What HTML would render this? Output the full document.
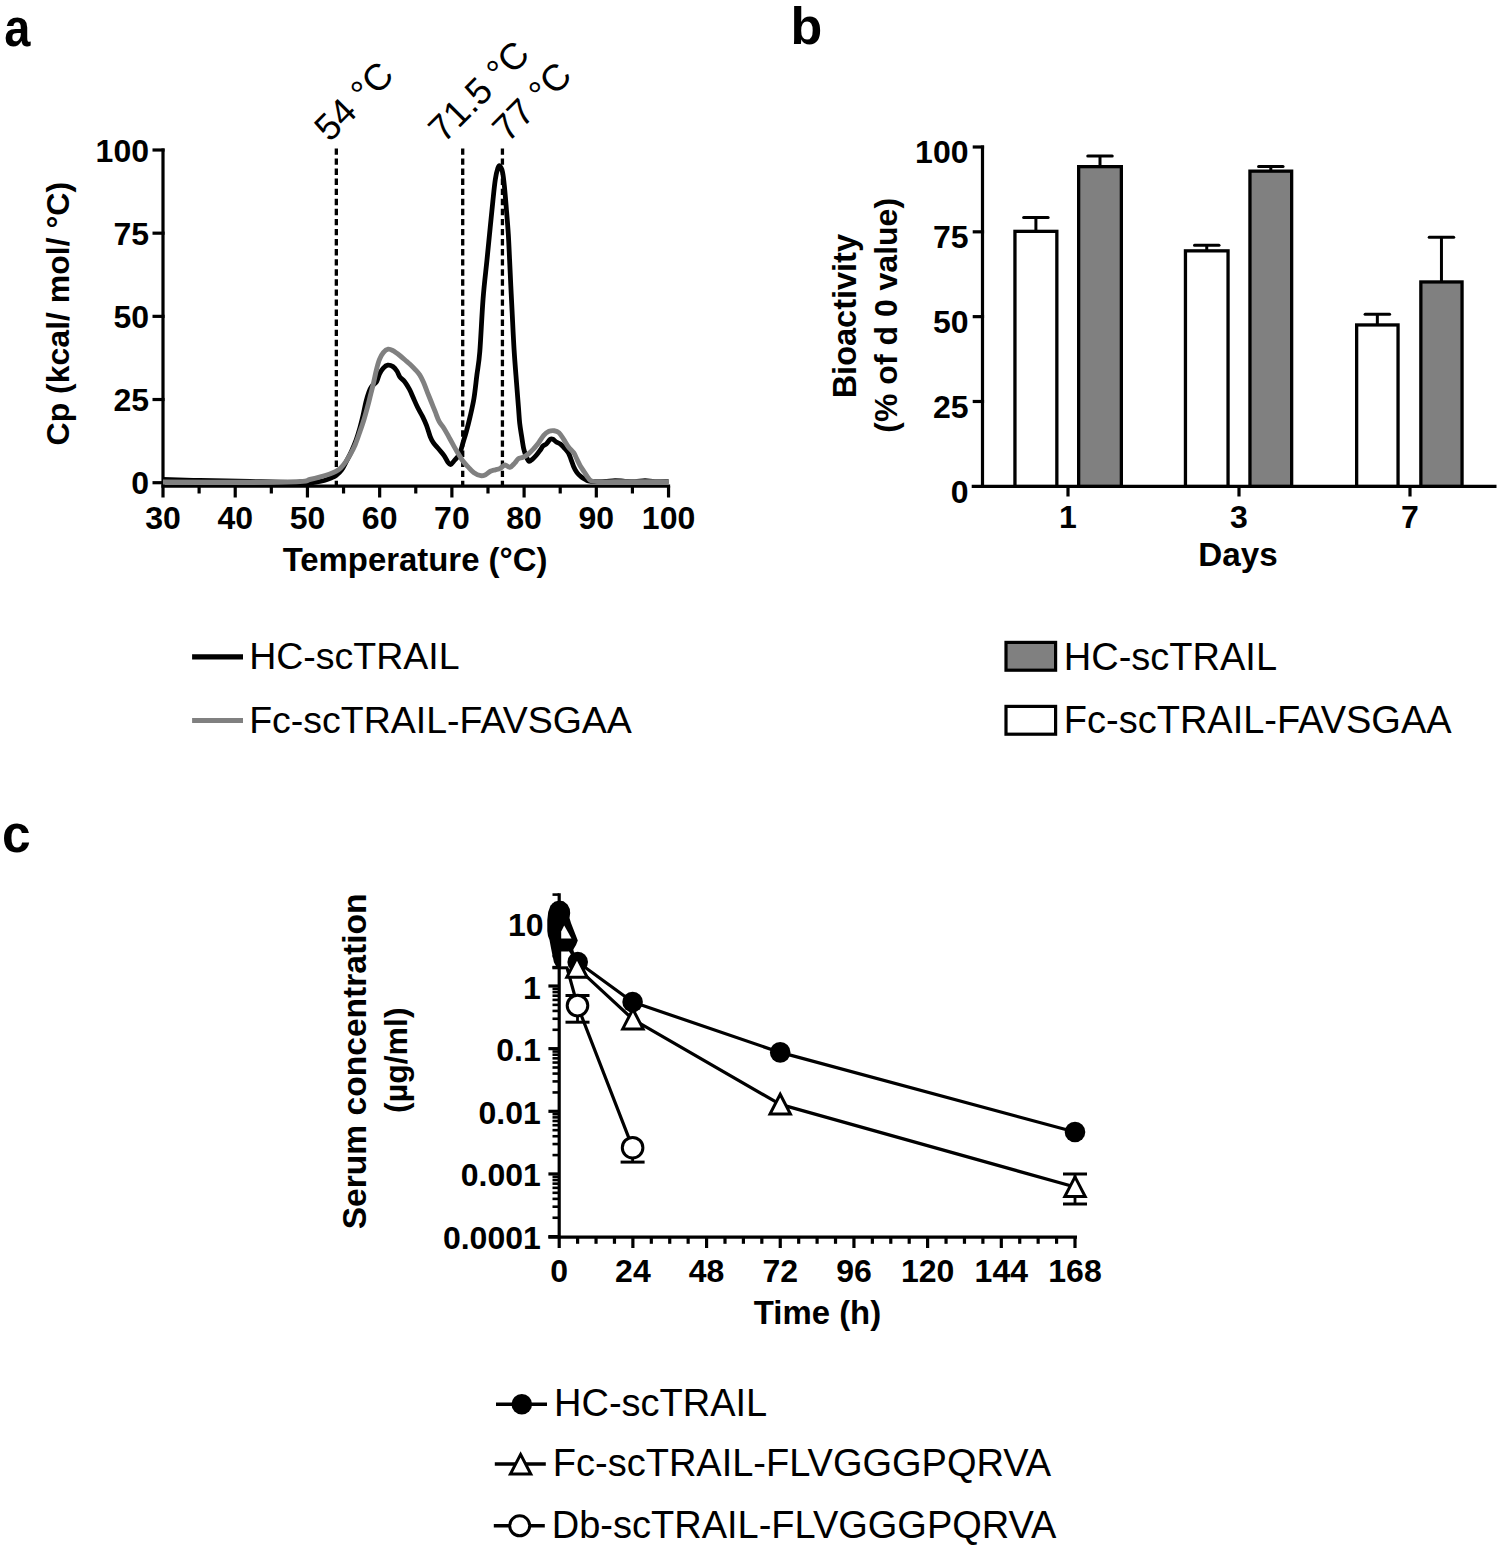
<!DOCTYPE html>
<html><head><meta charset="utf-8"><style>html,body{margin:0;padding:0;background:#fff;}svg{display:block;}</style></head>
<body><svg width="1500" height="1548" viewBox="0 0 1500 1548"><text x="4.00" y="46.00" font-family="Liberation Sans" font-weight="bold" font-size="54" text-anchor="start" transform="matrix(0.87 0 0 1 0.78 0)">a</text>
<text x="790.50" y="43.90" font-family="Liberation Sans" font-weight="bold" font-size="52" text-anchor="start" >b</text>
<text x="2.00" y="852.30" font-family="Liberation Sans" font-weight="bold" font-size="54" text-anchor="start" transform="matrix(0.954 0 0 1 0.18 0)">c</text>
<line x1="163.00" y1="148.50" x2="163.00" y2="486.00" stroke="#000" stroke-width="3.2" />
<line x1="152.50" y1="482.70" x2="164.60" y2="482.70" stroke="#000" stroke-width="3.2" />
<text x="149.00" y="494.20" font-family="Liberation Sans" font-weight="bold" font-size="32" text-anchor="end" >0</text>
<line x1="152.50" y1="399.52" x2="164.60" y2="399.52" stroke="#000" stroke-width="3.2" />
<text x="149.00" y="411.02" font-family="Liberation Sans" font-weight="bold" font-size="32" text-anchor="end" >25</text>
<line x1="152.50" y1="316.35" x2="164.60" y2="316.35" stroke="#000" stroke-width="3.2" />
<text x="149.00" y="327.85" font-family="Liberation Sans" font-weight="bold" font-size="32" text-anchor="end" >50</text>
<line x1="152.50" y1="233.17" x2="164.60" y2="233.17" stroke="#000" stroke-width="3.2" />
<text x="149.00" y="244.67" font-family="Liberation Sans" font-weight="bold" font-size="32" text-anchor="end" >75</text>
<line x1="152.50" y1="150.00" x2="164.60" y2="150.00" stroke="#000" stroke-width="3.2" />
<text x="149.00" y="161.50" font-family="Liberation Sans" font-weight="bold" font-size="32" text-anchor="end" >100</text>
<line x1="161.40" y1="486.20" x2="670.14" y2="486.20" stroke="#000" stroke-width="3.2" />
<line x1="163.00" y1="486.00" x2="163.00" y2="497.50" stroke="#000" stroke-width="3.2" />
<text x="163.00" y="529.00" font-family="Liberation Sans" font-weight="bold" font-size="32" text-anchor="middle" >30</text>
<line x1="235.22" y1="486.00" x2="235.22" y2="497.50" stroke="#000" stroke-width="3.2" />
<text x="235.22" y="529.00" font-family="Liberation Sans" font-weight="bold" font-size="32" text-anchor="middle" >40</text>
<line x1="307.44" y1="486.00" x2="307.44" y2="497.50" stroke="#000" stroke-width="3.2" />
<text x="307.44" y="529.00" font-family="Liberation Sans" font-weight="bold" font-size="32" text-anchor="middle" >50</text>
<line x1="379.66" y1="486.00" x2="379.66" y2="497.50" stroke="#000" stroke-width="3.2" />
<text x="379.66" y="529.00" font-family="Liberation Sans" font-weight="bold" font-size="32" text-anchor="middle" >60</text>
<line x1="451.88" y1="486.00" x2="451.88" y2="497.50" stroke="#000" stroke-width="3.2" />
<text x="451.88" y="529.00" font-family="Liberation Sans" font-weight="bold" font-size="32" text-anchor="middle" >70</text>
<line x1="524.10" y1="486.00" x2="524.10" y2="497.50" stroke="#000" stroke-width="3.2" />
<text x="524.10" y="529.00" font-family="Liberation Sans" font-weight="bold" font-size="32" text-anchor="middle" >80</text>
<line x1="596.32" y1="486.00" x2="596.32" y2="497.50" stroke="#000" stroke-width="3.2" />
<text x="596.32" y="529.00" font-family="Liberation Sans" font-weight="bold" font-size="32" text-anchor="middle" >90</text>
<line x1="668.54" y1="486.00" x2="668.54" y2="497.50" stroke="#000" stroke-width="3.2" />
<text x="668.54" y="529.00" font-family="Liberation Sans" font-weight="bold" font-size="32" text-anchor="middle" >100</text>
<line x1="199.11" y1="486.00" x2="199.11" y2="493.50" stroke="#000" stroke-width="3.2" />
<line x1="271.33" y1="486.00" x2="271.33" y2="493.50" stroke="#000" stroke-width="3.2" />
<line x1="343.55" y1="486.00" x2="343.55" y2="493.50" stroke="#000" stroke-width="3.2" />
<line x1="415.77" y1="486.00" x2="415.77" y2="493.50" stroke="#000" stroke-width="3.2" />
<line x1="487.99" y1="486.00" x2="487.99" y2="493.50" stroke="#000" stroke-width="3.2" />
<line x1="560.21" y1="486.00" x2="560.21" y2="493.50" stroke="#000" stroke-width="3.2" />
<line x1="632.43" y1="486.00" x2="632.43" y2="493.50" stroke="#000" stroke-width="3.2" />
<text x="415.00" y="571.00" font-family="Liberation Sans" font-weight="bold" font-size="32.9" text-anchor="middle" >Temperature (°C)</text>
<text transform="translate(69.3,313.7) rotate(-90)" font-family="Liberation Sans" font-weight="bold" font-size="32" text-anchor="middle">Cp (kcal/ mol/ °C)</text>
<line x1="336.33" y1="148.40" x2="336.33" y2="485.00" stroke="#000" stroke-width="3.3" stroke-dasharray="6.4 3.67"/>
<line x1="462.71" y1="148.40" x2="462.71" y2="485.00" stroke="#000" stroke-width="3.3" stroke-dasharray="6.4 3.67"/>
<line x1="502.43" y1="148.40" x2="502.43" y2="485.00" stroke="#000" stroke-width="3.3" stroke-dasharray="6.4 3.67"/>
<text transform="translate(329.8,142.9) rotate(-45)" font-family="Liberation Sans" font-size="37">54 °C</text>
<text transform="translate(443.8,143.9) rotate(-45)" font-family="Liberation Sans" font-size="37">71.5 °C</text>
<text transform="translate(507.8,143.4) rotate(-45)" font-family="Liberation Sans" font-size="37">77 °C</text>
<path d="M163.00,479.50 C169.17,479.67 185.50,480.17 200.00,480.50 C214.50,480.83 235.00,481.17 250.00,481.50 C265.00,481.83 281.67,482.10 290.00,482.50 C298.33,482.90 295.92,483.92 300.00,483.90 C304.08,483.88 310.47,482.97 314.50,482.40 C318.53,481.83 321.28,481.30 324.20,480.50 C327.12,479.70 330.05,478.40 332.00,477.60 C333.95,476.80 334.28,477.00 335.90,475.70 C337.52,474.40 339.93,472.23 341.70,469.80 C343.47,467.37 344.88,464.17 346.50,461.10 C348.12,458.03 349.78,454.95 351.40,451.40 C353.02,447.85 354.75,443.83 356.20,439.80 C357.65,435.77 358.97,431.23 360.10,427.20 C361.23,423.17 362.03,419.80 363.00,415.60 C363.97,411.40 364.93,405.88 365.90,402.00 C366.87,398.12 367.83,394.88 368.80,392.30 C369.77,389.72 370.40,388.27 371.70,386.50 C373.00,384.73 375.30,383.80 376.60,381.70 C377.90,379.60 378.38,376.17 379.50,373.90 C380.62,371.63 381.93,369.55 383.30,368.10 C384.67,366.65 386.08,365.45 387.70,365.20 C389.32,364.95 391.47,365.63 393.00,366.60 C394.53,367.57 395.77,369.30 396.90,371.00 C398.03,372.70 398.50,375.02 399.80,376.80 C401.10,378.58 403.08,379.60 404.70,381.70 C406.32,383.80 408.05,386.67 409.50,389.40 C410.95,392.13 412.02,395.03 413.40,398.10 C414.78,401.17 416.27,404.72 417.80,407.80 C419.33,410.88 421.15,413.68 422.60,416.60 C424.05,419.52 425.22,421.92 426.50,425.30 C427.78,428.68 429.17,434.00 430.30,436.90 C431.43,439.80 431.83,440.60 433.30,442.70 C434.77,444.80 437.33,447.40 439.10,449.50 C440.87,451.60 442.45,453.20 443.90,455.30 C445.35,457.40 446.67,460.57 447.80,462.10 C448.93,463.63 449.57,464.82 450.70,464.50 C451.83,464.18 453.15,461.90 454.60,460.20 C456.05,458.50 457.95,457.38 459.40,454.30 C460.85,451.22 462.17,445.40 463.30,441.70 C464.43,438.00 465.07,436.28 466.20,432.10 C467.33,427.92 468.80,422.27 470.10,416.60 C471.40,410.93 472.87,405.05 474.00,398.10 C475.13,391.15 475.93,382.65 476.90,374.90 C477.87,367.15 478.77,364.33 479.80,351.60 C480.83,338.87 481.90,313.80 483.10,298.50 C484.30,283.20 485.82,271.63 487.00,259.80 C488.18,247.97 489.23,237.18 490.20,227.50 C491.17,217.82 491.95,209.67 492.80,201.70 C493.65,193.73 494.45,185.30 495.30,179.70 C496.15,174.10 497.13,170.37 497.90,168.10 C498.67,165.83 499.13,165.45 499.90,166.10 C500.67,166.75 501.75,168.65 502.50,172.00 C503.25,175.35 503.77,180.18 504.40,186.20 C505.03,192.22 505.65,200.13 506.30,208.10 C506.95,216.07 507.75,225.38 508.30,234.00 C508.85,242.62 509.18,251.20 509.60,259.80 C510.02,268.40 510.38,277.00 510.80,285.60 C511.22,294.20 511.55,300.67 512.10,311.40 C512.65,322.13 513.35,337.97 514.10,350.00 C514.85,362.03 515.87,373.97 516.60,383.60 C517.33,393.23 517.98,401.18 518.50,407.80 C519.02,414.42 519.17,418.48 519.70,423.30 C520.23,428.12 521.03,432.47 521.70,436.70 C522.37,440.93 522.93,445.37 523.70,448.70 C524.47,452.03 525.42,454.60 526.30,456.70 C527.18,458.80 528.00,460.87 529.00,461.30 C530.00,461.73 531.08,460.30 532.30,459.30 C533.52,458.30 534.97,456.85 536.30,455.30 C537.63,453.75 539.18,451.55 540.30,450.00 C541.42,448.45 542.00,447.00 543.00,446.00 C544.00,445.00 545.08,445.12 546.30,444.00 C547.52,442.88 549.18,440.08 550.30,439.30 C551.42,438.52 552.00,438.85 553.00,439.30 C554.00,439.75 555.08,441.22 556.30,442.00 C557.52,442.78 559.07,443.12 560.30,444.00 C561.53,444.88 562.37,445.85 563.70,447.30 C565.03,448.75 567.08,450.70 568.30,452.70 C569.52,454.70 570.10,456.97 571.00,459.30 C571.90,461.63 572.70,464.47 573.70,466.70 C574.70,468.93 575.78,471.03 577.00,472.70 C578.22,474.37 579.67,475.60 581.00,476.70 C582.33,477.80 583.78,478.58 585.00,479.30 C586.22,480.02 586.63,480.62 588.30,481.00 C589.97,481.38 592.22,481.52 595.00,481.60 C597.78,481.68 601.67,481.67 605.00,481.50 C608.33,481.33 611.67,480.63 615.00,480.60 C618.33,480.57 621.67,481.12 625.00,481.30 C628.33,481.48 631.67,481.80 635.00,481.70 C638.33,481.60 641.67,480.72 645.00,480.70 C648.33,480.68 651.08,481.50 655.00,481.60 C658.92,481.70 666.25,481.35 668.50,481.30" fill="none" stroke="#000" stroke-width="4.8" stroke-linejoin="round" stroke-linecap="butt"/>
<path d="M163.00,482.00 C177.50,482.05 227.17,482.38 250.00,482.30 C272.83,482.22 290.05,481.97 300.00,481.50 C309.95,481.03 306.47,480.23 309.70,479.50 C312.93,478.77 316.17,477.98 319.40,477.10 C322.63,476.22 326.35,475.17 329.10,474.20 C331.85,473.23 333.97,472.35 335.90,471.30 C337.83,470.25 339.10,469.43 340.70,467.90 C342.30,466.37 343.88,464.37 345.50,462.10 C347.12,459.83 348.78,457.20 350.40,454.30 C352.02,451.40 353.58,448.57 355.20,444.70 C356.82,440.83 358.63,435.30 360.10,431.10 C361.57,426.90 362.72,423.70 364.00,419.50 C365.28,415.30 366.68,410.10 367.80,405.90 C368.92,401.70 369.73,398.18 370.70,394.30 C371.67,390.42 372.62,386.80 373.60,382.60 C374.58,378.40 375.62,372.97 376.60,369.10 C377.58,365.23 378.38,362.15 379.50,359.40 C380.62,356.65 381.85,354.30 383.30,352.60 C384.75,350.90 386.58,349.52 388.20,349.20 C389.82,348.88 391.07,349.65 393.00,350.70 C394.93,351.75 397.53,353.73 399.80,355.50 C402.07,357.27 404.90,359.85 406.60,361.30 C408.30,362.75 408.63,362.90 410.00,364.20 C411.37,365.50 413.18,367.32 414.80,369.10 C416.42,370.88 418.23,372.65 419.70,374.90 C421.17,377.15 422.32,379.70 423.60,382.60 C424.88,385.50 426.12,389.07 427.40,392.30 C428.68,395.53 430.00,398.77 431.30,402.00 C432.60,405.23 433.90,408.47 435.20,411.70 C436.50,414.93 437.65,418.65 439.10,421.40 C440.55,424.15 442.28,425.62 443.90,428.20 C445.52,430.78 447.18,434.00 448.80,436.90 C450.42,439.80 452.15,443.02 453.60,445.60 C455.05,448.18 456.05,449.97 457.50,452.40 C458.95,454.83 460.53,457.78 462.30,460.20 C464.07,462.62 466.15,464.80 468.10,466.90 C470.05,469.00 471.90,471.33 474.00,472.80 C476.10,474.27 478.77,475.38 480.70,475.70 C482.63,476.02 483.98,475.43 485.60,474.70 C487.22,473.97 488.78,472.12 490.40,471.30 C492.02,470.48 493.68,470.28 495.30,469.80 C496.92,469.32 498.48,469.20 500.10,468.40 C501.72,467.60 503.38,465.17 505.00,465.00 C506.62,464.83 508.18,467.72 509.80,467.40 C511.42,467.08 513.28,464.55 514.70,463.10 C516.12,461.65 516.92,459.67 518.30,458.70 C519.68,457.73 521.33,458.08 523.00,457.30 C524.67,456.52 526.52,455.43 528.30,454.00 C530.08,452.57 532.03,450.48 533.70,448.70 C535.37,446.92 536.63,445.53 538.30,443.30 C539.97,441.07 541.92,437.30 543.70,435.30 C545.48,433.30 547.23,432.07 549.00,431.30 C550.77,430.53 552.63,430.47 554.30,430.70 C555.97,430.93 557.43,431.27 559.00,432.70 C560.57,434.13 562.15,436.97 563.70,439.30 C565.25,441.63 566.63,444.47 568.30,446.70 C569.97,448.93 572.25,450.60 573.70,452.70 C575.15,454.80 575.90,457.08 577.00,459.30 C578.10,461.52 579.08,463.88 580.30,466.00 C581.52,468.12 582.97,470.00 584.30,472.00 C585.63,474.00 587.07,476.50 588.30,478.00 C589.53,479.50 589.47,480.37 591.70,481.00 C593.93,481.63 597.82,481.67 601.70,481.80 C605.58,481.93 608.62,481.80 615.00,481.80 C621.38,481.80 631.08,481.80 640.00,481.80 C648.92,481.80 663.75,481.80 668.50,481.80" fill="none" stroke="#808080" stroke-width="4.9" stroke-linejoin="round" stroke-linecap="butt"/>
<line x1="192.10" y1="656.90" x2="243.00" y2="656.90" stroke="#000" stroke-width="5.1" />
<line x1="192.10" y1="720.50" x2="243.00" y2="720.50" stroke="#808080" stroke-width="4.8" />
<text x="249.20" y="668.90" font-family="Liberation Sans" font-size="37.5" text-anchor="start" >HC-scTRAIL</text>
<text x="249.20" y="732.70" font-family="Liberation Sans" font-size="37.5" text-anchor="start" >Fc-scTRAIL-FAVSGAA</text>
<line x1="982.50" y1="145.50" x2="982.50" y2="486.30" stroke="#000" stroke-width="3.2" />
<text x="968.50" y="502.50" font-family="Liberation Sans" font-weight="bold" font-size="32" text-anchor="end" >0</text>
<line x1="972.70" y1="401.48" x2="984.10" y2="401.48" stroke="#000" stroke-width="3.2" />
<text x="968.50" y="417.68" font-family="Liberation Sans" font-weight="bold" font-size="32" text-anchor="end" >25</text>
<line x1="972.70" y1="316.65" x2="984.10" y2="316.65" stroke="#000" stroke-width="3.2" />
<text x="968.50" y="332.85" font-family="Liberation Sans" font-weight="bold" font-size="32" text-anchor="end" >50</text>
<line x1="972.70" y1="231.83" x2="984.10" y2="231.83" stroke="#000" stroke-width="3.2" />
<text x="968.50" y="248.03" font-family="Liberation Sans" font-weight="bold" font-size="32" text-anchor="end" >75</text>
<line x1="972.70" y1="147.00" x2="984.10" y2="147.00" stroke="#000" stroke-width="3.2" />
<text x="968.50" y="163.20" font-family="Liberation Sans" font-weight="bold" font-size="32" text-anchor="end" >100</text>
<line x1="971.70" y1="486.30" x2="1496.50" y2="486.30" stroke="#000" stroke-width="3.2" />
<line x1="1068.00" y1="486.00" x2="1068.00" y2="496.50" stroke="#000" stroke-width="3.2" />
<text x="1068.00" y="527.50" font-family="Liberation Sans" font-weight="bold" font-size="32" text-anchor="middle" >1</text>
<line x1="1239.00" y1="486.00" x2="1239.00" y2="496.50" stroke="#000" stroke-width="3.2" />
<text x="1239.00" y="527.50" font-family="Liberation Sans" font-weight="bold" font-size="32" text-anchor="middle" >3</text>
<line x1="1410.00" y1="486.00" x2="1410.00" y2="496.50" stroke="#000" stroke-width="3.2" />
<text x="1410.00" y="527.50" font-family="Liberation Sans" font-weight="bold" font-size="32" text-anchor="middle" >7</text>
<text x="1238.00" y="566.00" font-family="Liberation Sans" font-weight="bold" font-size="33.2" text-anchor="middle" >Days</text>
<text transform="translate(856,316.2) rotate(-90)" font-family="Liberation Sans" font-weight="bold" font-size="32.5" text-anchor="middle">Bioactivity</text>
<text transform="translate(896.5,315.3) rotate(-90)" font-family="Liberation Sans" font-weight="bold" font-size="32" text-anchor="middle">(% of d 0 value)</text>
<line x1="1035.90" y1="231.35" x2="1035.90" y2="217.50" stroke="#000" stroke-width="3" />
<line x1="1023.65" y1="217.50" x2="1048.15" y2="217.50" stroke="#000" stroke-width="3" stroke-linecap="round"/>
<rect x="1014.95" y="231.35" width="41.90" height="254.95" fill="#fff" stroke="#000" stroke-width="3.3"/>
<line x1="1100.00" y1="166.65" x2="1100.00" y2="156.00" stroke="#000" stroke-width="3" />
<line x1="1087.75" y1="156.00" x2="1112.25" y2="156.00" stroke="#000" stroke-width="3" stroke-linecap="round"/>
<rect x="1078.65" y="166.65" width="42.70" height="319.65" fill="#808080" stroke="#000" stroke-width="3.3"/>
<line x1="1206.75" y1="250.85" x2="1206.75" y2="245.20" stroke="#000" stroke-width="3" />
<line x1="1194.50" y1="245.20" x2="1219.00" y2="245.20" stroke="#000" stroke-width="3" stroke-linecap="round"/>
<rect x="1185.45" y="250.85" width="42.60" height="235.45" fill="#fff" stroke="#000" stroke-width="3.3"/>
<line x1="1270.80" y1="171.15" x2="1270.80" y2="166.50" stroke="#000" stroke-width="3" />
<line x1="1258.55" y1="166.50" x2="1283.05" y2="166.50" stroke="#000" stroke-width="3" stroke-linecap="round"/>
<rect x="1249.95" y="171.15" width="41.70" height="315.15" fill="#808080" stroke="#000" stroke-width="3.3"/>
<line x1="1377.35" y1="324.95" x2="1377.35" y2="314.20" stroke="#000" stroke-width="3" />
<line x1="1365.10" y1="314.20" x2="1389.60" y2="314.20" stroke="#000" stroke-width="3" stroke-linecap="round"/>
<rect x="1356.65" y="324.95" width="41.40" height="161.35" fill="#fff" stroke="#000" stroke-width="3.3"/>
<line x1="1441.45" y1="281.95" x2="1441.45" y2="237.30" stroke="#000" stroke-width="3" />
<line x1="1429.20" y1="237.30" x2="1453.70" y2="237.30" stroke="#000" stroke-width="3" stroke-linecap="round"/>
<rect x="1420.85" y="281.95" width="41.20" height="204.35" fill="#808080" stroke="#000" stroke-width="3.3"/>
<rect x="1006.0" y="642.4" width="49.599999999999994" height="27.8" fill="#808080" stroke="#000" stroke-width="3.2"/>
<rect x="1006.0" y="706.4" width="49.599999999999994" height="27.8" fill="#fff" stroke="#000" stroke-width="3.2"/>
<text x="1063.80" y="669.60" font-family="Liberation Sans" font-size="38" text-anchor="start" >HC-scTRAIL</text>
<text x="1063.80" y="732.60" font-family="Liberation Sans" font-size="38" text-anchor="start" >Fc-scTRAIL-FAVSGAA</text>
<line x1="559.20" y1="893.20" x2="559.20" y2="1237.20" stroke="#000" stroke-width="3.2" />
<line x1="548.40" y1="1236.60" x2="559.20" y2="1236.60" stroke="#000" stroke-width="3.2" />
<text x="540.80" y="1249.10" font-family="Liberation Sans" font-weight="bold" font-size="32" text-anchor="end" >0.0001</text>
<line x1="548.40" y1="1173.95" x2="559.20" y2="1173.95" stroke="#000" stroke-width="3.2" />
<text x="540.80" y="1186.45" font-family="Liberation Sans" font-weight="bold" font-size="32" text-anchor="end" >0.001</text>
<line x1="548.40" y1="1111.30" x2="559.20" y2="1111.30" stroke="#000" stroke-width="3.2" />
<text x="540.80" y="1123.80" font-family="Liberation Sans" font-weight="bold" font-size="32" text-anchor="end" >0.01</text>
<line x1="548.40" y1="1048.65" x2="559.20" y2="1048.65" stroke="#000" stroke-width="3.2" />
<text x="540.80" y="1061.15" font-family="Liberation Sans" font-weight="bold" font-size="32" text-anchor="end" >0.1</text>
<line x1="548.40" y1="986.00" x2="559.20" y2="986.00" stroke="#000" stroke-width="3.2" />
<text x="540.80" y="998.50" font-family="Liberation Sans" font-weight="bold" font-size="32" text-anchor="end" >1</text>
<line x1="548.40" y1="923.35" x2="559.20" y2="923.35" stroke="#000" stroke-width="3.2" />
<text x="543.60" y="935.85" font-family="Liberation Sans" font-weight="bold" font-size="32" text-anchor="end" >10</text>
<line x1="552.50" y1="1217.74" x2="559.20" y2="1217.74" stroke="#000" stroke-width="2.6" />
<line x1="552.50" y1="1206.71" x2="559.20" y2="1206.71" stroke="#000" stroke-width="2.6" />
<line x1="552.50" y1="1198.88" x2="559.20" y2="1198.88" stroke="#000" stroke-width="2.6" />
<line x1="552.50" y1="1192.81" x2="559.20" y2="1192.81" stroke="#000" stroke-width="2.6" />
<line x1="552.50" y1="1187.85" x2="559.20" y2="1187.85" stroke="#000" stroke-width="2.6" />
<line x1="552.50" y1="1183.65" x2="559.20" y2="1183.65" stroke="#000" stroke-width="2.6" />
<line x1="552.50" y1="1180.02" x2="559.20" y2="1180.02" stroke="#000" stroke-width="2.6" />
<line x1="552.50" y1="1176.82" x2="559.20" y2="1176.82" stroke="#000" stroke-width="2.6" />
<line x1="552.50" y1="1155.09" x2="559.20" y2="1155.09" stroke="#000" stroke-width="2.6" />
<line x1="552.50" y1="1144.06" x2="559.20" y2="1144.06" stroke="#000" stroke-width="2.6" />
<line x1="552.50" y1="1136.23" x2="559.20" y2="1136.23" stroke="#000" stroke-width="2.6" />
<line x1="552.50" y1="1130.16" x2="559.20" y2="1130.16" stroke="#000" stroke-width="2.6" />
<line x1="552.50" y1="1125.20" x2="559.20" y2="1125.20" stroke="#000" stroke-width="2.6" />
<line x1="552.50" y1="1121.00" x2="559.20" y2="1121.00" stroke="#000" stroke-width="2.6" />
<line x1="552.50" y1="1117.37" x2="559.20" y2="1117.37" stroke="#000" stroke-width="2.6" />
<line x1="552.50" y1="1114.17" x2="559.20" y2="1114.17" stroke="#000" stroke-width="2.6" />
<line x1="552.50" y1="1092.44" x2="559.20" y2="1092.44" stroke="#000" stroke-width="2.6" />
<line x1="552.50" y1="1081.41" x2="559.20" y2="1081.41" stroke="#000" stroke-width="2.6" />
<line x1="552.50" y1="1073.58" x2="559.20" y2="1073.58" stroke="#000" stroke-width="2.6" />
<line x1="552.50" y1="1067.51" x2="559.20" y2="1067.51" stroke="#000" stroke-width="2.6" />
<line x1="552.50" y1="1062.55" x2="559.20" y2="1062.55" stroke="#000" stroke-width="2.6" />
<line x1="552.50" y1="1058.35" x2="559.20" y2="1058.35" stroke="#000" stroke-width="2.6" />
<line x1="552.50" y1="1054.72" x2="559.20" y2="1054.72" stroke="#000" stroke-width="2.6" />
<line x1="552.50" y1="1051.52" x2="559.20" y2="1051.52" stroke="#000" stroke-width="2.6" />
<line x1="552.50" y1="1029.79" x2="559.20" y2="1029.79" stroke="#000" stroke-width="2.6" />
<line x1="552.50" y1="1018.76" x2="559.20" y2="1018.76" stroke="#000" stroke-width="2.6" />
<line x1="552.50" y1="1010.93" x2="559.20" y2="1010.93" stroke="#000" stroke-width="2.6" />
<line x1="552.50" y1="1004.86" x2="559.20" y2="1004.86" stroke="#000" stroke-width="2.6" />
<line x1="552.50" y1="999.90" x2="559.20" y2="999.90" stroke="#000" stroke-width="2.6" />
<line x1="552.50" y1="995.70" x2="559.20" y2="995.70" stroke="#000" stroke-width="2.6" />
<line x1="552.50" y1="992.07" x2="559.20" y2="992.07" stroke="#000" stroke-width="2.6" />
<line x1="552.50" y1="988.87" x2="559.20" y2="988.87" stroke="#000" stroke-width="2.6" />
<line x1="552.50" y1="967.14" x2="559.20" y2="967.14" stroke="#000" stroke-width="2.6" />
<line x1="552.50" y1="956.11" x2="559.20" y2="956.11" stroke="#000" stroke-width="2.6" />
<line x1="552.50" y1="948.28" x2="559.20" y2="948.28" stroke="#000" stroke-width="2.6" />
<line x1="552.50" y1="942.21" x2="559.20" y2="942.21" stroke="#000" stroke-width="2.6" />
<line x1="552.50" y1="937.25" x2="559.20" y2="937.25" stroke="#000" stroke-width="2.6" />
<line x1="552.50" y1="933.05" x2="559.20" y2="933.05" stroke="#000" stroke-width="2.6" />
<line x1="552.50" y1="929.42" x2="559.20" y2="929.42" stroke="#000" stroke-width="2.6" />
<line x1="552.50" y1="926.22" x2="559.20" y2="926.22" stroke="#000" stroke-width="2.6" />
<line x1="552.50" y1="904.49" x2="559.20" y2="904.49" stroke="#000" stroke-width="2.6" />
<line x1="552.50" y1="894.60" x2="559.20" y2="894.60" stroke="#000" stroke-width="2.6" />
<line x1="548.40" y1="1237.20" x2="1077.00" y2="1237.20" stroke="#000" stroke-width="3.2" />
<line x1="559.20" y1="1237.00" x2="559.20" y2="1248.00" stroke="#000" stroke-width="3.2" />
<text x="559.20" y="1281.50" font-family="Liberation Sans" font-weight="bold" font-size="32" text-anchor="middle" >0</text>
<line x1="577.62" y1="1237.00" x2="577.62" y2="1243.80" stroke="#000" stroke-width="3.2" />
<line x1="596.04" y1="1237.00" x2="596.04" y2="1243.80" stroke="#000" stroke-width="3.2" />
<line x1="614.46" y1="1237.00" x2="614.46" y2="1243.80" stroke="#000" stroke-width="3.2" />
<line x1="632.88" y1="1237.00" x2="632.88" y2="1248.00" stroke="#000" stroke-width="3.2" />
<text x="632.88" y="1281.50" font-family="Liberation Sans" font-weight="bold" font-size="32" text-anchor="middle" >24</text>
<line x1="651.31" y1="1237.00" x2="651.31" y2="1243.80" stroke="#000" stroke-width="3.2" />
<line x1="669.73" y1="1237.00" x2="669.73" y2="1243.80" stroke="#000" stroke-width="3.2" />
<line x1="688.15" y1="1237.00" x2="688.15" y2="1243.80" stroke="#000" stroke-width="3.2" />
<line x1="706.57" y1="1237.00" x2="706.57" y2="1248.00" stroke="#000" stroke-width="3.2" />
<text x="706.57" y="1281.50" font-family="Liberation Sans" font-weight="bold" font-size="32" text-anchor="middle" >48</text>
<line x1="724.99" y1="1237.00" x2="724.99" y2="1243.80" stroke="#000" stroke-width="3.2" />
<line x1="743.41" y1="1237.00" x2="743.41" y2="1243.80" stroke="#000" stroke-width="3.2" />
<line x1="761.83" y1="1237.00" x2="761.83" y2="1243.80" stroke="#000" stroke-width="3.2" />
<line x1="780.25" y1="1237.00" x2="780.25" y2="1248.00" stroke="#000" stroke-width="3.2" />
<text x="780.25" y="1281.50" font-family="Liberation Sans" font-weight="bold" font-size="32" text-anchor="middle" >72</text>
<line x1="798.68" y1="1237.00" x2="798.68" y2="1243.80" stroke="#000" stroke-width="3.2" />
<line x1="817.10" y1="1237.00" x2="817.10" y2="1243.80" stroke="#000" stroke-width="3.2" />
<line x1="835.52" y1="1237.00" x2="835.52" y2="1243.80" stroke="#000" stroke-width="3.2" />
<line x1="853.94" y1="1237.00" x2="853.94" y2="1248.00" stroke="#000" stroke-width="3.2" />
<text x="853.94" y="1281.50" font-family="Liberation Sans" font-weight="bold" font-size="32" text-anchor="middle" >96</text>
<line x1="872.36" y1="1237.00" x2="872.36" y2="1243.80" stroke="#000" stroke-width="3.2" />
<line x1="890.78" y1="1237.00" x2="890.78" y2="1243.80" stroke="#000" stroke-width="3.2" />
<line x1="909.20" y1="1237.00" x2="909.20" y2="1243.80" stroke="#000" stroke-width="3.2" />
<line x1="927.62" y1="1237.00" x2="927.62" y2="1248.00" stroke="#000" stroke-width="3.2" />
<text x="927.62" y="1281.50" font-family="Liberation Sans" font-weight="bold" font-size="32" text-anchor="middle" >120</text>
<line x1="946.05" y1="1237.00" x2="946.05" y2="1243.80" stroke="#000" stroke-width="3.2" />
<line x1="964.47" y1="1237.00" x2="964.47" y2="1243.80" stroke="#000" stroke-width="3.2" />
<line x1="982.89" y1="1237.00" x2="982.89" y2="1243.80" stroke="#000" stroke-width="3.2" />
<line x1="1001.31" y1="1237.00" x2="1001.31" y2="1248.00" stroke="#000" stroke-width="3.2" />
<text x="1001.31" y="1281.50" font-family="Liberation Sans" font-weight="bold" font-size="32" text-anchor="middle" >144</text>
<line x1="1019.73" y1="1237.00" x2="1019.73" y2="1243.80" stroke="#000" stroke-width="3.2" />
<line x1="1038.15" y1="1237.00" x2="1038.15" y2="1243.80" stroke="#000" stroke-width="3.2" />
<line x1="1056.57" y1="1237.00" x2="1056.57" y2="1243.80" stroke="#000" stroke-width="3.2" />
<line x1="1074.99" y1="1237.00" x2="1074.99" y2="1248.00" stroke="#000" stroke-width="3.2" />
<text x="1074.99" y="1281.50" font-family="Liberation Sans" font-weight="bold" font-size="32" text-anchor="middle" >168</text>
<text x="817.50" y="1323.80" font-family="Liberation Sans" font-weight="bold" font-size="32.9" text-anchor="middle" >Time (h)</text>
<text transform="translate(366,1061.4) rotate(-90)" font-family="Liberation Sans" font-weight="bold" font-size="33.6" text-anchor="middle">Serum concentration</text>
<text transform="translate(406.8,1060.2) rotate(-90)" font-family="Liberation Sans" font-weight="bold" font-size="32" text-anchor="middle">(µg/ml)</text>
<polyline points="559.5,910.5 566.0,944.0 577.7,962.0 632.6,1002.0 780.2,1052.4 1075.0,1132.0" fill="none" stroke="#000" stroke-width="3.2" stroke-linejoin="round" stroke-linecap="round" />
<polyline points="559.5,918.0 566.0,931.0 577.0,967.6 632.9,1019.3 780.2,1104.4 1075.0,1187.0" fill="none" stroke="#000" stroke-width="3.2" stroke-linejoin="round" stroke-linecap="round" />
<polyline points="567.5,969.5 577.5,1005.6 632.6,1147.7" fill="none" stroke="#000" stroke-width="3.2" stroke-linejoin="round" stroke-linecap="round" />
<line x1="1075.00" y1="1187.00" x2="1075.00" y2="1174.00" stroke="#000" stroke-width="2.8" />
<line x1="1063.00" y1="1174.00" x2="1087.00" y2="1174.00" stroke="#000" stroke-width="3" />
<line x1="1075.00" y1="1187.00" x2="1075.00" y2="1204.00" stroke="#000" stroke-width="2.8" />
<line x1="1063.00" y1="1204.00" x2="1087.00" y2="1204.00" stroke="#000" stroke-width="3" />
<line x1="577.50" y1="1005.60" x2="577.50" y2="995.50" stroke="#000" stroke-width="2.8" />
<line x1="565.50" y1="995.50" x2="589.50" y2="995.50" stroke="#000" stroke-width="3" />
<line x1="577.50" y1="1005.60" x2="577.50" y2="1022.20" stroke="#000" stroke-width="2.8" />
<line x1="565.50" y1="1022.20" x2="589.50" y2="1022.20" stroke="#000" stroke-width="3" />
<line x1="632.60" y1="1147.70" x2="632.60" y2="1162.10" stroke="#000" stroke-width="2.8" />
<line x1="620.60" y1="1162.10" x2="644.60" y2="1162.10" stroke="#000" stroke-width="3" />
<line x1="552.40" y1="967.80" x2="568.40" y2="967.80" stroke="#000" stroke-width="3" />
<polygon points="559,900.5 563.5,901.3 567.5,904.5 569.8,909 570.2,913 569.5,918 571,923 577.8,940.5 576,945 573,950 568,951.5 561.2,951.5 561.2,966 556,966 553.9,962.3 552.6,956 550.9,947.6 549.5,940 548,936 547.3,931 547.3,920 548.2,912 550.5,905.5 554.5,901.8" fill="#000"/>
<polygon points="564.2,925.5 571.5,938.6 561.2,938.6 561.2,931.5" fill="#fff"/>
<circle cx="577.70" cy="962.00" r="10.3" fill="#000"/>
<circle cx="632.60" cy="1002.00" r="10.3" fill="#000"/>
<circle cx="780.20" cy="1052.40" r="10.3" fill="#000"/>
<circle cx="1075.00" cy="1132.00" r="10.3" fill="#000"/>
<path d="M577.00,957.50 L587.20,977.20 L566.80,977.20 Z" fill="#fff" stroke="#000" stroke-width="3" stroke-linejoin="miter"/>
<path d="M632.90,1009.20 L643.10,1028.90 L622.70,1028.90 Z" fill="#fff" stroke="#000" stroke-width="3" stroke-linejoin="miter"/>
<path d="M780.20,1094.30 L790.40,1114.00 L770.00,1114.00 Z" fill="#fff" stroke="#000" stroke-width="3" stroke-linejoin="miter"/>
<path d="M1075.00,1176.90 L1085.20,1196.60 L1064.80,1196.60 Z" fill="#fff" stroke="#000" stroke-width="3" stroke-linejoin="miter"/>
<circle cx="577.50" cy="1005.60" r="10.3" fill="#fff" stroke="#000" stroke-width="3"/>
<circle cx="632.60" cy="1147.70" r="10.3" fill="#fff" stroke="#000" stroke-width="3"/>
<line x1="496.00" y1="1404.20" x2="547.00" y2="1404.20" stroke="#000" stroke-width="3.4" />
<circle cx="521.80" cy="1404.20" r="10.3" fill="#000"/>
<text x="554.00" y="1416.40" font-family="Liberation Sans" font-size="38" text-anchor="start" >HC-scTRAIL</text>
<line x1="494.80" y1="1464.00" x2="545.80" y2="1464.00" stroke="#000" stroke-width="3.4" />
<path d="M520.60,1454.40 L530.80,1474.10 L510.40,1474.10 Z" fill="#fff" stroke="#000" stroke-width="3" stroke-linejoin="miter"/>
<text x="552.80" y="1476.20" font-family="Liberation Sans" font-size="38" text-anchor="start" >Fc-scTRAIL-FLVGGGPQRVA</text>
<line x1="493.80" y1="1525.80" x2="544.80" y2="1525.80" stroke="#000" stroke-width="3.4" />
<circle cx="519.70" cy="1525.80" r="10" fill="#fff" stroke="#000" stroke-width="3"/>
<text x="551.80" y="1538.00" font-family="Liberation Sans" font-size="38" text-anchor="start" >Db-scTRAIL-FLVGGGPQRVA</text></svg></body></html>
